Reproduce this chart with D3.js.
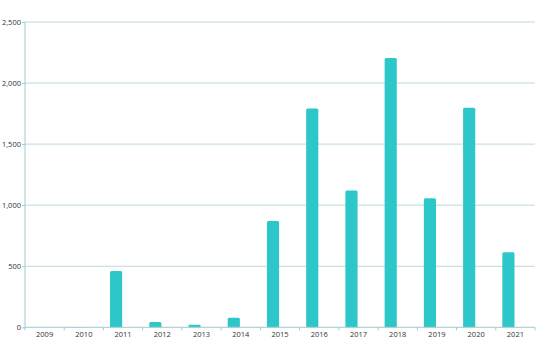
<!DOCTYPE html>
<html><head><meta charset="utf-8">
<script src="https://cdn.jsdelivr.net/npm/d3@7"></script>
<style>body{margin:0;background:#fff}svg{display:block}</style>
</head><body>
<svg id="c" width="553" height="360"></svg>
<script>
const categories = ["2009","2010","2011","2012","2013","2014","2015","2016","2017","2018","2019","2020","2021"];
const values = [0, 3, 461, 43, 21, 79, 870, 1792, 1121, 2206, 1056, 1797, 614];
const yTicks = [0, 500, 1000, 1500, 2000, 2500];

const svg = d3.select("#c");
const L = 25, R = 535, T = 22, B = 327.3;
const x = d3.scaleBand().domain(categories).range([L, R]).padding(0);
const y = d3.scaleLinear().domain([0, 2500]).range([B, T]);
const font = "'Open Sans', 'Noto Sans', sans-serif";

// grid
svg.append("g").selectAll("line").data(yTicks.slice(1)).join("line")
  .attr("x1", L).attr("x2", R)
  .attr("y1", d => y(d)).attr("y2", d => y(d))
  .attr("stroke", "#b9dadc").attr("stroke-width", 1);

// bars
const bw = x.bandwidth();
svg.append("g").selectAll("path").data(values).join("path")
  .attr("fill", "#2ec7c9")
  .attr("d", (d, i) => {
    const x0 = x(categories[i]) + bw * 0.167, w = bw * 0.31;
    const y0 = y(d), h = B - y0;
    if (h <= 0) return "";
    const r = Math.min(1.5, h / 2);
    return `M${x0},${B}V${y0 + r}Q${x0},${y0} ${x0 + r},${y0}H${x0 + w - r}Q${x0 + w},${y0} ${x0 + w},${y0 + r}V${B}Z`;
  });

// y axis
const ya = svg.append("g").attr("transform", `translate(${L},0)`)
  .call(d3.axisLeft(y).tickValues(yTicks).tickSize(3).tickFormat(d3.format(",")));
ya.select(".domain").attr("stroke", "#9fcccf").attr("d", `M0,${B}V${T}`);
ya.selectAll(".tick line").attr("stroke", "#9fcccf");
ya.selectAll("text").attr("font-family", font).attr("font-size", 7.5).attr("fill", "#333").attr("x", -4);

// x axis
const xa = svg.append("g").attr("transform", `translate(0,${B})`)
  .call(d3.axisBottom(x).tickSize(0));
xa.select(".domain").attr("stroke", "#9fcccf").attr("d", `M${L},0H${R}`);
xa.selectAll("text").attr("font-family", font).attr("font-size", 7.5).attr("fill", "#333").attr("dy", "0.71em").attr("y", 4);
xa.append("g").selectAll("line").data(categories.concat([null])).join("line")
  .attr("x1", (d, i) => L + i * bw).attr("x2", (d, i) => L + i * bw)
  .attr("y1", 0).attr("y2", 3).attr("stroke", "#9fcccf");
</script>
</body></html>
